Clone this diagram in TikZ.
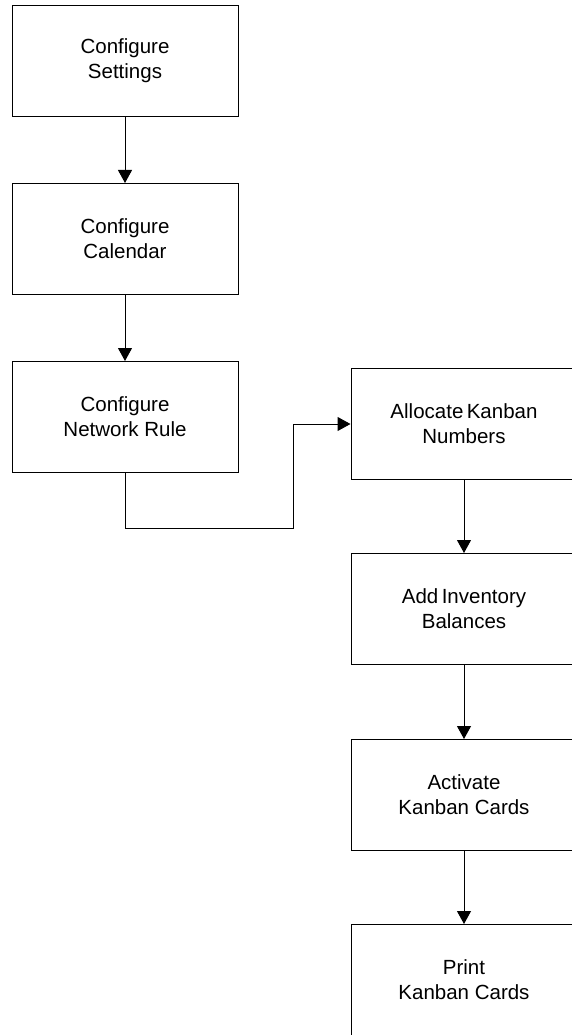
\documentclass[tikz,border=0pt]{standalone}
\usepackage{fontspec}
\setmainfont{Liberation Sans}
\usepackage{tikz}
\usetikzlibrary{arrows.meta}
\tikzset{
  stepbox/.style={draw, line width=1pt, minimum width=226pt, minimum height=111pt,
    inner sep=0pt, align=center, font=\fontsize{20.5}{25}\selectfont},
}

\begin{document}
\begin{tikzpicture}[>={Triangle[width=14pt,length=13pt]}, line width=1pt, node distance=178pt]
        \useasboundingbox (0,0) rectangle (571pt,-1035pt);
        \node [stepbox] (1) at (125pt,-61pt) {Configure\\Settings};
        \node [stepbox, below of=1] (2) {Configure\\Calendar};
        \node [stepbox, below of=2] (3) {Configure\\Network Rule};
        \node [stepbox, right of=3, xshift=161pt, yshift=-7pt] (4) {Allocate\,Kanban\\Numbers};
        \node [stepbox, below of=4, yshift=-7pt] (5) {Add\,Inventory\\Balances};
        \node [stepbox, below of=5, yshift=-8pt] (6) {Activate\\Kanban Cards};
        \node [stepbox, below of=6, yshift=-7pt] (7) {Print\\Kanban Cards};
        \draw[->] (1) -- (2);
        \draw[->] (2) -- (3);
        \draw[->] (3.south) -- ++(0,-55pt) -| ([xshift=-57pt]4.west) -- (4.west);
        \draw[->] (4) -- (5);
        \draw[->] (5) -- (6);
        \draw[->] (6) -- (7);
      \end{tikzpicture}
\end{document}
